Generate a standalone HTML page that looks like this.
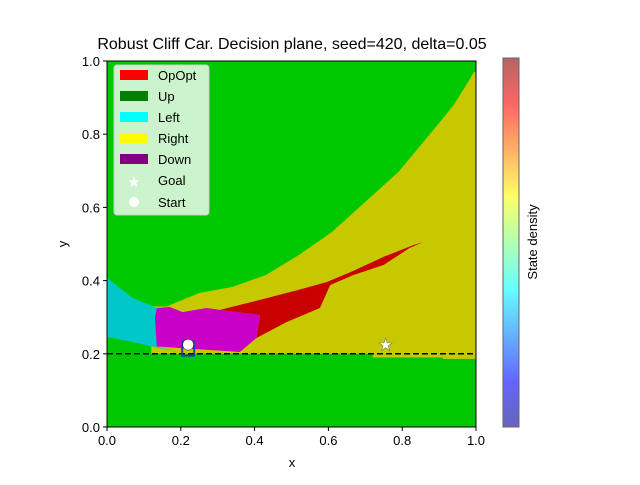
<!DOCTYPE html>
<html><head><meta charset="utf-8"><style>
body{margin:0;background:#fff;font-family:"Liberation Sans",sans-serif;}
svg text{font-family:"Liberation Sans",sans-serif;}
</style></head><body>
<svg id="chart" width="640" height="480" xmlns="http://www.w3.org/2000/svg">
<defs>
<linearGradient id="jet" x1="0" y1="1" x2="0" y2="0">
<stop offset="0" stop-color="#00008f"/><stop offset="0.125" stop-color="#0000ff"/><stop offset="0.375" stop-color="#00ffff"/><stop offset="0.625" stop-color="#ffff00"/><stop offset="0.875" stop-color="#ff0000"/><stop offset="1" stop-color="#800000"/>
</linearGradient>
<clipPath id="pc"><rect x="107" y="61" width="369" height="366"/></clipPath>
</defs>
<text x="292" y="49" font-size="16" text-anchor="middle">Robust Cliff Car. Decision plane, seed=420, delta=0.05</text>
<g id="plot" clip-path="url(#pc)"></g>
<g id="axes"></g>
<g>
<rect x="114" y="65" width="95" height="150" rx="3" fill="#fff" fill-opacity="0.8" stroke="#ccc"/>
<rect x="120" y="70" width="28" height="10" fill="#ff0000"/><text x="158" y="80" font-size="13">OpOpt</text>
<rect x="120" y="91" width="28" height="10" fill="#008000"/><text x="158" y="101" font-size="13">Up</text>
<rect x="120" y="112" width="28" height="10" fill="#00ffff"/><text x="158" y="122" font-size="13">Left</text>
<rect x="120" y="133" width="28" height="10" fill="#ffff00"/><text x="158" y="143" font-size="13">Right</text>
<rect x="120" y="154" width="28" height="10" fill="#800080"/><text x="158" y="164" font-size="13">Down</text>
<text x="134" y="187" font-size="15" fill="#fff" text-anchor="middle">★</text><text x="158" y="185" font-size="13">Goal</text>
<circle cx="134" cy="202" r="5" fill="#fff"/><text x="158" y="207" font-size="13">Start</text>
</g>
<rect x="503" y="58" width="16" height="369" fill="url(#jet)" opacity="0.6" stroke="#000"/>
<text transform="translate(537,242) rotate(-90)" font-size="13" text-anchor="middle">State density</text>
</svg>
<script>
const xTicks=[0,0.2,0.4,0.6,0.8,1.0];
const yTicks=[0,0.2,0.4,0.6,0.8,1.0];
const yellowRegion=[[0.12,0.33],[0.16,0.329],[0.25,0.366],[0.34,0.383],[0.43,0.415],[0.52,0.47],[0.61,0.533],[0.70,0.615],[0.79,0.697],[0.88,0.806],[0.94,0.88],[0.995,0.97],[1.0,0.97],[1.0,0.186],[0.91,0.186],[0.91,0.19],[0.72,0.19],[0.72,0.2],[0.12,0.2]];
const cyanRegion=[[0,0.407],[0.07,0.352],[0.135,0.325],[0.14,0.3],[0.135,0.22],[0.19,0.205],[0.07,0.232],[0,0.246]];
const magentaRegion=[[0.13,0.298],[0.135,0.325],[0.17,0.328],[0.205,0.314],[0.27,0.325],[0.306,0.32],[0.415,0.306],[0.405,0.243],[0.36,0.205],[0.135,0.22]];
const redRegion=[[0.306,0.32],[0.433,0.352],[0.52,0.375],[0.595,0.396],[0.66,0.423],[0.75,0.465],[0.83,0.497],[0.857,0.505],[0.82,0.489],[0.75,0.443],[0.667,0.415],[0.605,0.388],[0.577,0.325],[0.487,0.287],[0.405,0.243],[0.415,0.306]];
const startPt=[0.22,0.225];
const goalPt=[0.755,0.225];
const cliffY=0.2;
const X=v=>107+v*369, Y=v=>427-v*366;
const NS="http://www.w3.org/2000/svg";
const plot=document.getElementById('plot'), axes=document.getElementById('axes');
function mk(t,a,p){const e=document.createElementNS(NS,t);for(const k in a)e.setAttribute(k,a[k]);p.appendChild(e);return e;}
let bg=mk('rect',{x:107,y:61,width:369,height:366,fill:'#00c800'},plot);


function poly(pts,fill,name){const e=mk('polygon',{points:pts.map(p=>X(p[0])+','+Y(p[1])).join(' '),fill:fill},plot);

}
poly(yellowRegion,'#c8c800','right-region');
poly(cyanRegion,'#00c8c8','left-region');
poly(magentaRegion,'#c800c8','down-region');
poly(redRegion,'#c80000','opopt-region');
let cl=mk('line',{x1:X(0),x2:X(1),y1:Y(cliffY),y2:Y(cliffY),stroke:'#000','stroke-width':1.5,'stroke-dasharray':'6,3'},plot);


let tr=mk('rect',{x:X(startPt[0])-6,y:Y(startPt[1])-3,width:12,height:14,fill:'none',stroke:'#2040a0','stroke-width':2},plot);


let st=mk('circle',{cx:X(startPt[0]),cy:Y(startPt[1]),r:5.5,fill:'#fff',stroke:'#000','stroke-width':0.5},plot);


let gl=mk('text',{x:X(goalPt[0]),y:Y(goalPt[1])+6,'font-size':17,fill:'#fff',stroke:'#555','stroke-width':0.4,'text-anchor':'middle'},plot);
gl.textContent='★';


let fr=mk('rect',{x:107,y:61,width:369,height:366,fill:'none',stroke:'#000'},axes);


xTicks.forEach(v=>{mk('line',{x1:X(v),x2:X(v),y1:427,y2:431,stroke:'#000'},axes);
const t=mk('text',{x:X(v),y:445,'font-size':13,'text-anchor':'middle'},axes);t.textContent=v.toFixed(1);

});
yTicks.forEach(v=>{mk('line',{x1:103,x2:107,y1:Y(v),y2:Y(v),stroke:'#000'},axes);
const t=mk('text',{x:100,y:Y(v)+5,'font-size':13,'text-anchor':'end'},axes);t.textContent=v.toFixed(1);

});
const xl=mk('text',{x:292,y:467,'font-size':13,'text-anchor':'middle'},axes);xl.textContent='x';


const yl=mk('text',{transform:'translate(67,244) rotate(-90)','font-size':13,'text-anchor':'middle'},axes);yl.textContent='y';


</script>
</body></html>
